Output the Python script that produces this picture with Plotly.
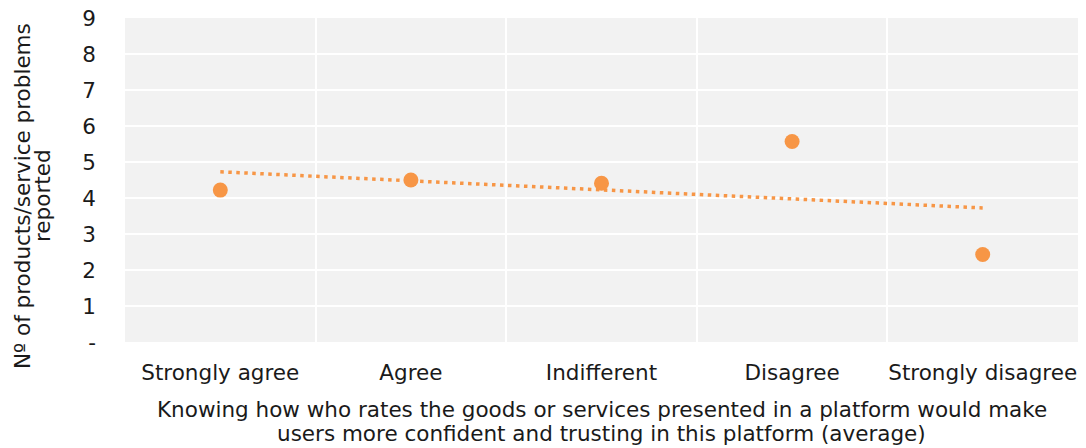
import numpy as np
import plotly.graph_objects as go

categories = ["Strongly agree", "Agree", "Indifferent", "Disagree", "Strongly disagree"]
values = [4.22, 4.50, 4.41, 5.57, 2.43]
y_tickvals = [0, 1, 2, 3, 4, 5, 6, 7, 8, 9]
y_ticktext = ["-", "1", "2", "3", "4", "5", "6", "7", "8", "9"]
x_title_lines = ["Knowing how who rates the goods or services presented in a platform would make",
                 "users more confident and trusting in this platform (average)"]
y_title_lines = ["Nº of products/service problems", "reported"]

ORANGE = "#F79646"
FONT = "DejaVu Sans"
FS = 21.5
TXT = "#1a1a1a"

# linear trend line (least squares on category index)
xi = np.arange(1, len(values) + 1)
slope, intercept = np.polyfit(xi, values, 1)
trend_y = [slope * xi[0] + intercept, slope * xi[-1] + intercept]

fig = go.Figure()
fig.add_trace(go.Scatter(
    x=[categories[0], categories[-1]], y=trend_y, mode="lines",
    line=dict(color=ORANGE, width=3.5, dash="3.5px,4.5px"), hoverinfo="skip", showlegend=False))
fig.add_trace(go.Scatter(
    x=categories, y=values, mode="markers",
    marker=dict(color=ORANGE, size=15), showlegend=False))

# axis titles as annotations (for tight line spacing)
for i, line in enumerate(x_title_lines):
    fig.add_annotation(text=line, xref="paper", yref="paper", x=0.5, y=0,
                       xanchor="center", yanchor="middle", yshift=-67 - 24 * i,
                       showarrow=False, font=dict(size=FS, color=TXT))
for i, line in enumerate(y_title_lines):
    fig.add_annotation(text=line, xref="paper", yref="paper", x=0, y=0.5,
                       xanchor="center", yanchor="middle", xshift=-103 + 20 * i, yshift=-16,
                       textangle=-90, showarrow=False, font=dict(size=FS, color=TXT))

fig.update_layout(
    width=1078, height=440,
    margin=dict(l=117, r=8, t=10, b=106),
    paper_bgcolor="white", plot_bgcolor="#F2F2F2",
    font=dict(family=FONT, size=FS, color=TXT),
    xaxis=dict(
        type="category", categoryorder="array", categoryarray=categories,
        range=[-0.5, len(categories) - 0.5], tickangle=0,
        tickson="boundaries", showgrid=True, gridcolor="white", gridwidth=2,
        ticks="", zeroline=False, showline=False, ticklabelstandoff=15, automargin=False,
    ),
    yaxis=dict(
        range=[0, 9], tickmode="array", tickvals=y_tickvals, ticktext=y_ticktext,
        showgrid=True, gridcolor="white", gridwidth=2, zeroline=False, showline=False,
        ticks="", ticklabelstandoff=28, automargin=False, ticklabeloverflow="allow",
    ),
)

fig.write_html("out.html")
